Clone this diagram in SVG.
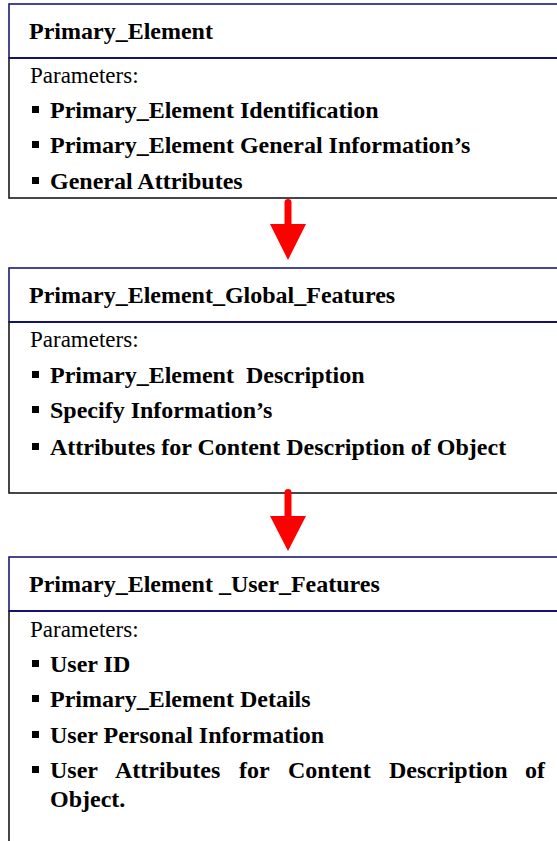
<svg xmlns="http://www.w3.org/2000/svg" width="557" height="841" viewBox="0 0 557 841">
<style>
text{font-family:"Liberation Serif","Times New Roman",serif;fill:#000}
.h{font-size:24px;font-weight:bold}
.p{font-size:23px}
.b{font-size:24px;font-weight:bold}
.hd{fill:#fff;stroke:#1a1a7a;stroke-width:1.6}
.bd{fill:#fff;stroke:#1a1a1a;stroke-width:1.6}
.dv{stroke:#14146e;stroke-width:2.2}
.bl{fill:#000}
.arr{fill:#ff0000}
</style>
<rect width="557" height="841" fill="#fff"/>
<g id="node1">
<rect class="bd" x="9" y="58" width="600" height="140"/>
<rect class="hd" x="9" y="4" width="600" height="54"/>
<line class="dv" x1="9" y1="58" x2="600" y2="58"/>
<text class="h" x="29" y="39">Primary_Element</text>
<text class="p" x="30" y="83">Parameters:</text>
<rect class="bl" x="32" y="106" width="7" height="7"/>
<text class="b" x="50" y="118">Primary_Element Identification</text>
<rect class="bl" x="32" y="141" width="7" height="7"/>
<text class="b" x="50" y="153">Primary_Element General Information’s</text>
<rect class="bl" x="32" y="177" width="7" height="7"/>
<text class="b" x="50" y="189">General Attributes</text>
</g>
<g id="node2">
<rect class="bd" x="9" y="322" width="600" height="171"/>
<rect class="hd" x="9" y="268" width="600" height="54"/>
<line class="dv" x1="9" y1="322" x2="600" y2="322"/>
<text class="h" x="29" y="303">Primary_Element_Global_Features</text>
<text class="p" x="30" y="347">Parameters:</text>
<rect class="bl" x="32" y="371" width="7" height="7"/>
<text class="b" x="50" y="383" xml:space="preserve">Primary_Element  Description</text>
<rect class="bl" x="32" y="406" width="7" height="7"/>
<text class="b" x="50" y="418">Specify Information’s</text>
<rect class="bl" x="32" y="443" width="7" height="7"/>
<text class="b" x="50" y="455">Attributes for Content Description of Object</text>
</g>
<g id="node3">
<rect class="bd" x="9" y="611" width="600" height="260"/>
<rect class="hd" x="9" y="557" width="600" height="54"/>
<line class="dv" x1="9" y1="611" x2="600" y2="611"/>
<text class="h" x="29" y="592">Primary_Element _User_Features</text>
<text class="p" x="30" y="637">Parameters:</text>
<rect class="bl" x="32" y="660" width="7" height="7"/>
<text class="b" x="50" y="672">User ID</text>
<rect class="bl" x="32" y="695" width="7" height="7"/>
<text class="b" x="50" y="707">Primary_Element Details</text>
<rect class="bl" x="32" y="731" width="7" height="7"/>
<text class="b" x="50" y="743">User Personal Information</text>
<rect class="bl" x="32" y="766" width="7" height="7"/>
<text class="b" y="778"><tspan x="50">User</tspan><tspan x="115">Attributes</tspan><tspan x="239">for</tspan><tspan x="288">Content</tspan><tspan x="389">Description</tspan><tspan x="525">of</tspan></text>
<text class="b" x="50" y="807">Object.</text>
</g>
<g id="connectors">
<path class="arr" d="M284.5,202.5 a3.5,3.5 0 0 1 7,0 V224 H306 L288,260 L270,224 H284.5 Z"/>
<path class="arr" d="M284.5,492.5 a3.5,3.5 0 0 1 7,0 V516 H306 L288,551 L270,516 H284.5 Z"/>
</g>
</svg>
